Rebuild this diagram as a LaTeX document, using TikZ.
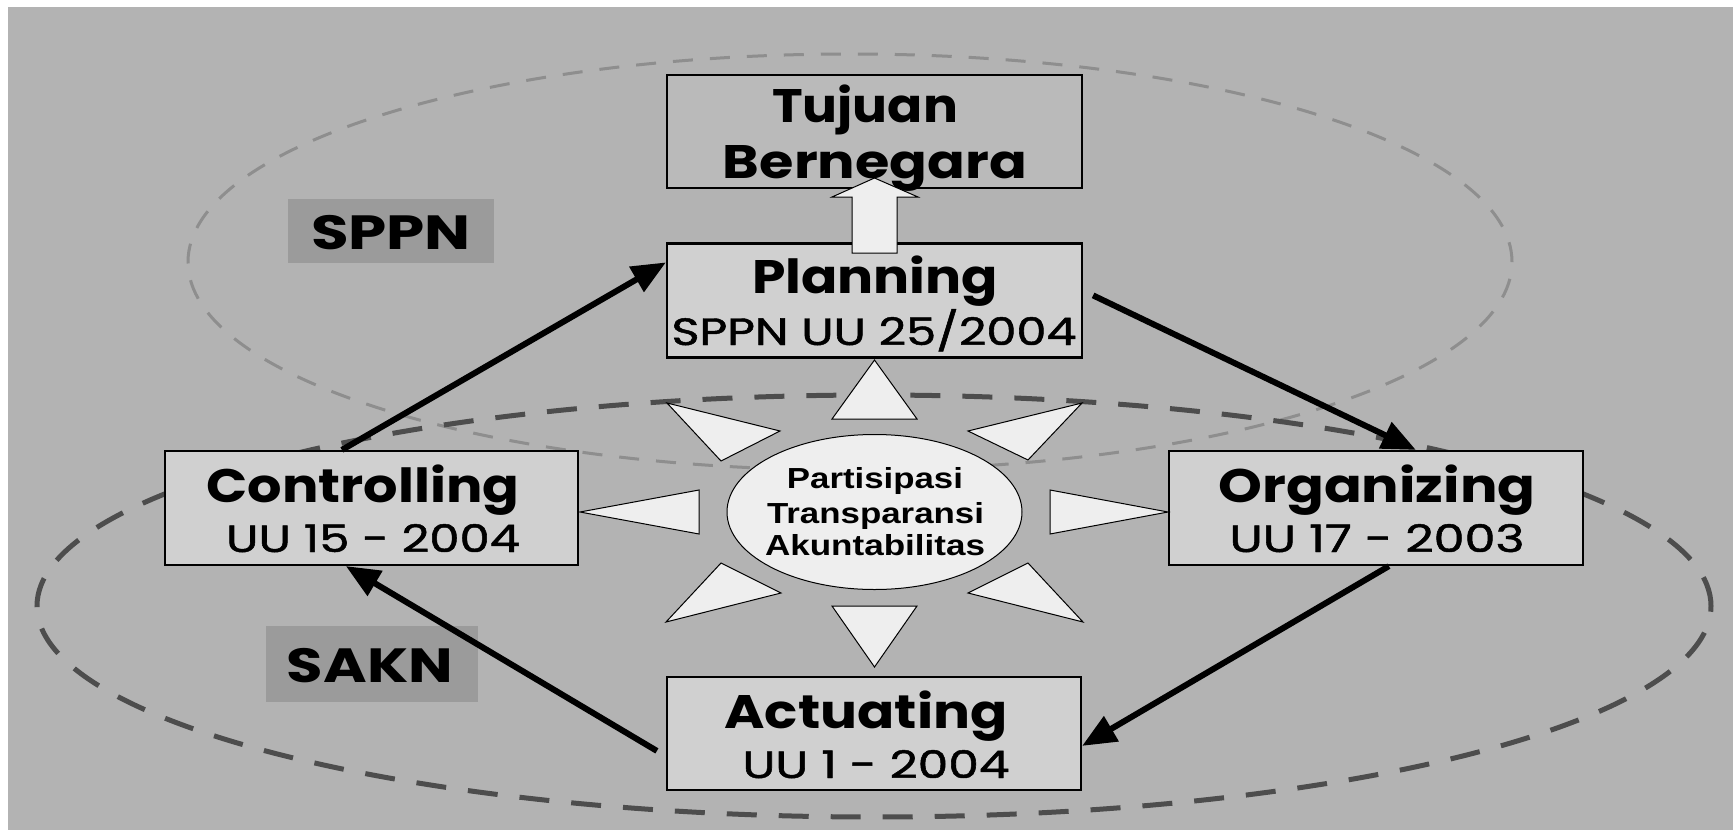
\documentclass[tikz,border=0pt]{standalone}
\usepackage{fontspec}
\usepackage{graphicx}
\setmainfont{Poppins}
\newfontfamily\psub{Poppins}[FakeBold=1.2]
\newfontfamily\cfont{Liberation Sans}
\usetikzlibrary{shapes.geometric,arrows.meta,calc}
\definecolor{bgc}{HTML}{B3B3B3}
\definecolor{boxc}{HTML}{D0D0D0}
\definecolor{topc}{HTML}{BABABA}
\definecolor{labc}{HTML}{9B9B9B}
\definecolor{sunc}{HTML}{EEEEEE}
\definecolor{sakc}{HTML}{4D4D4D}
\definecolor{sppc}{HTML}{8E8E8E}
\newcommand\fitw[2]{\resizebox{#1pt}{\height}{#2}}
\newcommand\ftitle{\fontsize{47}{50}\selectfont\bfseries}
\newcommand\fsub{\psub\fontsize{38}{42}\selectfont}
\newcommand\flab{\fontsize{48}{50}\selectfont\bfseries}
\newcommand\fsun{\cfont\fontsize{29}{32}\selectfont\bfseries}
\begin{document}
\begin{tikzpicture}[x=1pt,y=-1pt,
  box/.style={draw=black,line width=2.2pt,fill=boxc,inner sep=0pt,minimum width=415pt,minimum height=114pt},
  labbox/.style={fill=labc,inner sep=0pt},
  txt/.style={anchor=base,inner sep=0pt},
  conn/.style={line width=6pt,-{Triangle[length=34pt,width=28pt]}},
  sun/.style={draw=black,line width=1pt,fill=sunc},
  sppnring/.style={draw=sppc,line width=3pt,dash pattern=on 20pt off 17pt},
  saknring/.style={draw=sakc,line width=5pt,dash pattern=on 30pt off 22pt}]
\useasboundingbox (0,0) rectangle (1733,830);
\fill[white] (0,0) rectangle (1733,830);
\fill[bgc] (8,7) rectangle (1733,830);
% rings
\draw[sppnring] (850,262) ellipse [x radius=662pt, y radius=208pt];
\draw[saknring] (874,606) ellipse [x radius=837pt, y radius=211pt];
% labels
\node[labbox,minimum width=206pt,minimum height=64pt] (sppnbox) at (391,231) {};
\node[txt] (sppnt) at (391,249) {\flab\fitw{160}{SPPN}};
\node[labbox,minimum width=212pt,minimum height=76pt] (saknbox) at (372,664) {};
\node[txt] (saknt) at (370,682) {\flab\fitw{166}{SAKN}};
% boxes
\node[box,fill=topc,minimum height=113pt] (tuj) at (874.5,131.5) {};
\node[box] (plan) at (874.5,300.5) {};
\node[box,minimum width=413pt] (ctrl) at (371.5,508) {};
\node[box,minimum width=414pt] (org) at (1376,508) {};
\node[box,minimum width=414pt,minimum height=113pt] (act) at (874,733.5) {};
% texts
\node[txt] (tujt1) at (865,122) {\ftitle\fitw{186}{Tujuan}};
\node[txt] (tujt2) at (875,178) {\ftitle\fitw{304}{Bernegara}};
\node[txt] (plant1) at (875,293) {\ftitle\fitw{246}{Planning}};
\node[txt] (plant2) at (874,345) {\fsub\fitw{405}{SPPN UU 25/2004}};
\node[txt] (ctrlt1) at (363,502) {\ftitle\fitw{313}{Controlling}};
\node[txt] (ctrlt2) at (373,552) {\fsub\fitw{294}{UU 15 - 2004}};
\node[txt] (orgt1) at (1377,502) {\ftitle\fitw{317}{Organizing}};
\node[txt] (orgt2) at (1377,552) {\fsub\fitw{295}{UU 17 - 2003}};
\node[txt] (actt1) at (866,728) {\ftitle\fitw{283}{Actuating}};
\node[txt] (actt2) at (876,778) {\fsub\fitw{267}{UU 1 - 2004}};
% hollow arrow
\draw[sun] (852,253) -- (852,197) -- (832,197) -- (874.5,178) -- (918,197) -- (897,197) -- (897,253) -- cycle;
% sun rays
\draw[sun] (832,419) -- (917,419) -- (874.5,360) -- cycle;
\draw[sun] (832,606) -- (917,606) -- (874.5,667) -- cycle;
\draw[sun] (699,490) -- (699,534) -- (580,512) -- cycle;
\draw[sun] (1050,490) -- (1050,534) -- (1168,512) -- cycle;
\draw[sun] (667,403) -- (780,431) -- (721,461) -- cycle;
\draw[sun] (1082,403) -- (968,431) -- (1028,460) -- cycle;
\draw[sun] (721,563) -- (781,593) -- (666,622) -- cycle;
\draw[sun] (1028,563) -- (968,593) -- (1083,622) -- cycle;
\node[sun,ellipse,minimum width=295pt,minimum height=155pt,inner sep=0pt] (core) at (874.5,512) {};
\node[txt] (coret1) at (875,488) {\fsun\fitw{176}{Partisipasi}};
\node[txt] (coret2) at (875.5,523) {\fsun\fitw{217}{Transparansi}};
\node[txt] (coret3) at (875,555) {\fsun\fitw{220}{Akuntabilitas}};
% cycle arrows
\draw[conn] ($(ctrl.north west)+(178,0)$) -- ($(plan.north west)+(0,20)$);
\draw[conn] ($(plan.north east)+(10,53)$) -- ($(org.north west)+(248,0)$);
\draw[conn] ($(org.south west)+(221,0)$) -- ($(act.north east)+(0,70)$);
\draw[conn] ($(act.north west)+(-9,75)$) -- ($(ctrl.south west)+(182,0)$);
\end{tikzpicture}
\end{document}
